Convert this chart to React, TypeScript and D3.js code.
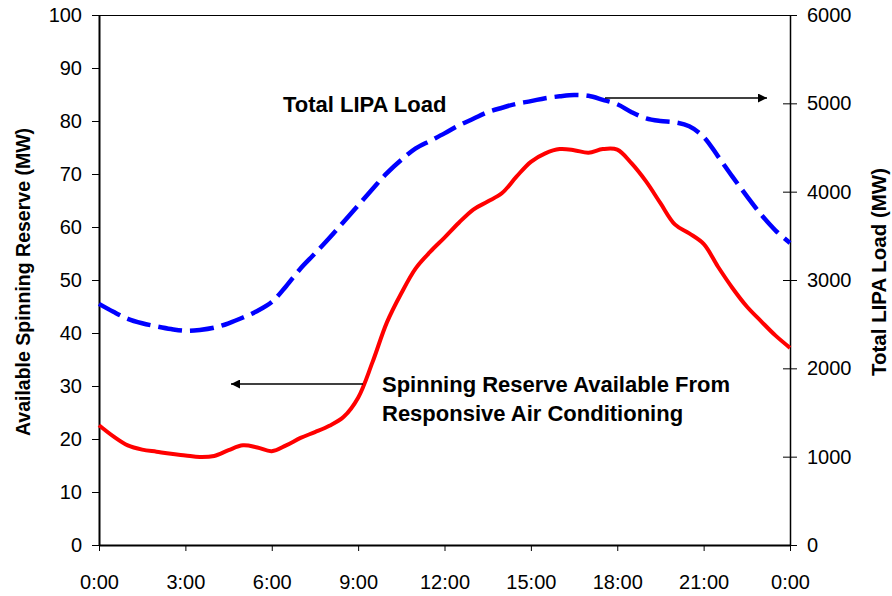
import { useRef, useEffect } from "react";
import * as d3 from "d3";

// half-hour steps, 0:00 to 24:00
const hours = d3.range(0, 24.01, 0.5);

const reserveMW = [
  22.6, 20.5, 18.8, 18.0, 17.6, 17.2, 16.9, 16.6, 16.8, 17.9, 18.8, 18.4, 17.7,
  18.8, 20.2, 21.3, 22.5, 24.2, 27.8, 34.5, 42.0, 47.5, 52.2, 55.3, 58.0, 60.8,
  63.3, 64.8, 66.4, 69.5, 72.3, 73.9, 74.7, 74.5, 74.0, 74.7, 74.6, 72.0, 68.6,
  64.5, 60.5, 58.8, 56.8, 52.5, 48.5, 45.0, 42.2, 39.5, 37.2,
];

const loadMW = [
  2730, 2640, 2560, 2510, 2475, 2445, 2425, 2435, 2460, 2510, 2575, 2650, 2750,
  2930, 3130, 3300, 3475, 3660, 3845, 4030, 4210, 4360, 4490, 4575, 4660, 4750,
  4825, 4900, 4950, 4995, 5025, 5058, 5080, 5095, 5085, 5040, 4990, 4900, 4830,
  4800, 4785, 4740, 4620, 4400, 4170, 3950, 3740, 3560, 3420,
];

const xTicks = [0, 3, 6, 9, 12, 15, 18, 21, 24];
const xTickLabels = ["0:00", "3:00", "6:00", "9:00", "12:00", "15:00", "18:00", "21:00", "0:00"];
const leftTicks = [0, 10, 20, 30, 40, 50, 60, 70, 80, 90, 100];
const rightTicks = [0, 1000, 2000, 3000, 4000, 5000, 6000];

const W = 892;
const H = 596;
const margin = { top: 15, right: 102, bottom: 51, left: 99 };
const FONT = "'Liberation Sans', Arial, sans-serif";

export default function App() {
  const ref = useRef<SVGSVGElement | null>(null);

  useEffect(() => {
    if (!ref.current) return;
    const svg = d3.select(ref.current);
    svg.selectAll("*").remove();

    const x0 = margin.left;
    const x1 = W - margin.right;
    const y0 = H - margin.bottom;
    const y1 = margin.top;

    const x = d3.scaleLinear().domain([0, 24]).range([x0, x1]);
    const yL = d3.scaleLinear().domain([0, 100]).range([y0, y1]);
    const yR = d3.scaleLinear().domain([0, 6000]).range([y0, y1]);

    svg
      .append("defs")
      .append("marker")
      .attr("id", "arrow")
      .attr("viewBox", "0 0 10 10")
      .attr("refX", 10)
      .attr("refY", 5)
      .attr("markerWidth", 11)
      .attr("markerHeight", 9)
      .attr("markerUnits", "userSpaceOnUse")
      .attr("orient", "auto")
      .append("path")
      .attr("d", "M0,0 L10,5 L0,10 Z")
      .attr("fill", "#000");

    // top border
    svg
      .append("line")
      .attr("x1", x0)
      .attr("x2", x1)
      .attr("y1", y1 + 0.5)
      .attr("y2", y1 + 0.5)
      .attr("stroke", "#000")
      .attr("stroke-width", 1);

    // left axis
    const gL = svg
      .append("g")
      .attr("transform", `translate(${x0},0)`)
      .call(d3.axisLeft(yL).tickValues(leftTicks).tickSize(7).tickPadding(10).tickSizeOuter(0));
    gL.select(".domain").attr("stroke-width", 2);

    // right axis
    const gR = svg
      .append("g")
      .attr("transform", `translate(${x1},0)`)
      .call(
        d3
          .axisRight(yR)
          .tickValues(rightTicks)
          .tickFormat(d3.format("d"))
          .tickSize(7)
          .tickPadding(10)
          .tickSizeOuter(0)
      );
    gR.selectAll(".tick line").attr("x1", -7);
    gR.select(".domain").attr("stroke-width", 1.5);

    // bottom axis
    const gB = svg
      .append("g")
      .attr("transform", `translate(0,${y0})`)
      .call(
        d3
          .axisBottom(x)
          .tickValues(xTicks)
          .tickFormat((_d, i) => xTickLabels[i])
          .tickSize(6)
          .tickPadding(24)
          .tickSizeOuter(0)
      );
    gB.select(".domain").attr("stroke-width", 2);

    [gL, gR, gB].forEach((g) => {
      g.selectAll("text").attr("font-family", FONT).attr("font-size", 20).attr("fill", "#000");
    });

    // series
    const redLine = d3
      .line<number>()
      .x((_d, i) => x(hours[i]))
      .y((d) => yL(d))
      .curve(d3.curveCatmullRom);
    const blueLine = d3
      .line<number>()
      .x((_d, i) => x(hours[i]))
      .y((d) => yR(d))
      .curve(d3.curveCatmullRom);

    svg
      .append("path")
      .attr("d", blueLine(loadMW))
      .attr("fill", "none")
      .attr("stroke", "#0000ff")
      .attr("stroke-width", 4.5)
      .attr("stroke-dasharray", "24,8");

    svg
      .append("path")
      .attr("d", redLine(reserveMW))
      .attr("fill", "none")
      .attr("stroke", "#ff0000")
      .attr("stroke-width", 4);

    // annotations
    svg
      .append("line")
      .attr("x1", 605)
      .attr("y1", 98)
      .attr("x2", 767)
      .attr("y2", 98)
      .attr("stroke", "#000")
      .attr("stroke-width", 1.5)
      .attr("marker-end", "url(#arrow)");

    svg
      .append("line")
      .attr("x1", 363)
      .attr("y1", 384)
      .attr("x2", 231)
      .attr("y2", 384)
      .attr("stroke", "#000")
      .attr("stroke-width", 1.5)
      .attr("marker-end", "url(#arrow)");

    const label = (tx: number, ty: number, s: string) =>
      svg
        .append("text")
        .attr("x", tx)
        .attr("y", ty)
        .attr("font-family", FONT)
        .attr("font-size", 22)
        .attr("font-weight", "bold")
        .attr("fill", "#000")
        .text(s);

    label(283, 112, "Total LIPA Load");
    label(382, 392, "Spinning Reserve Available From");
    label(382, 421, "Responsive Air Conditioning");

    // axis titles
    svg
      .append("text")
      .attr("transform", `translate(30,282) rotate(-90)`)
      .attr("text-anchor", "middle")
      .attr("font-family", FONT)
      .attr("font-size", 19.5)
      .attr("font-weight", "bold")
      .text("Available Spinning Reserve (MW)");

    svg
      .append("text")
      .attr("transform", `translate(886,272) rotate(-90)`)
      .attr("text-anchor", "middle")
      .attr("font-family", FONT)
      .attr("font-size", 20.5)
      .attr("font-weight", "bold")
      .text("Total LIPA Load (MW)");
  }, []);

  return (
    <svg
      ref={ref}
      width={W}
      height={H}
      style={{ position: "absolute", left: 0, top: 0, background: "#fff" }}
    />
  );
}
